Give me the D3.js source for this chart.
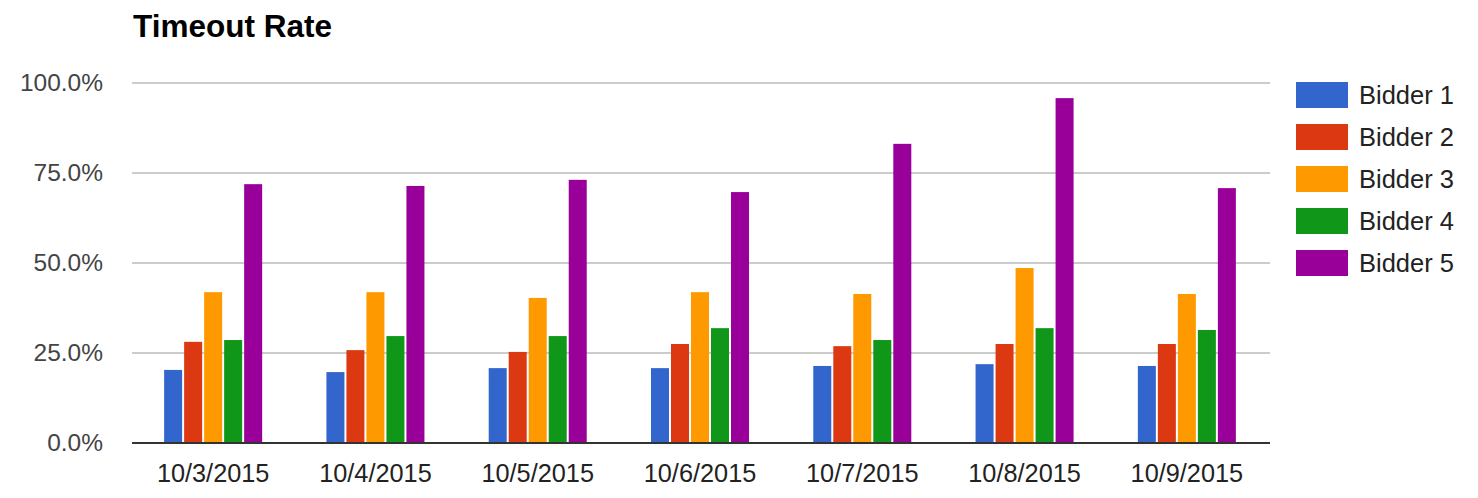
<!DOCTYPE html>
<html>
<head>
<meta charset="utf-8">
<script src="https://cdn.jsdelivr.net/npm/d3@7/dist/d3.min.js"></script>
<style>
  html, body { margin: 0; padding: 0; background: #fff; }
  svg { display: block; font-family: Arial, "Liberation Sans", sans-serif; }
</style>
</head>
<body>
<svg id="chart" width="1478" height="498"></svg>
<script>
const categories = ["10/3/2015", "10/4/2015", "10/5/2015", "10/6/2015", "10/7/2015", "10/8/2015", "10/9/2015"];
const seriesNames = ["Bidder 1", "Bidder 2", "Bidder 3", "Bidder 4", "Bidder 5"];
const bidder1 = [20.3, 19.7, 20.8, 20.8, 21.4, 21.9, 21.4];
const bidder2 = [28.1, 25.8, 25.3, 27.5, 26.9, 27.5, 27.5];
const bidder3 = [41.9, 41.9, 40.3, 41.9, 41.4, 48.6, 41.4];
const bidder4 = [28.6, 29.7, 29.7, 31.9, 28.6, 31.9, 31.4];
const bidder5 = [71.9, 71.4, 73.1, 69.7, 83.1, 95.8, 70.8];
const seriesValues = [bidder1, bidder2, bidder3, bidder4, bidder5];
const colors = ["#3366cc", "#dc3912", "#ff9900", "#109618", "#990099"];
const yTicks = [0, 25, 50, 75, 100];
const chartTitle = "Timeout Rate";

const svg = d3.select("#chart");
const plotLeft = 132, plotRight = 1270, plotTop = 83, plotBottom = 443;

const x0 = d3.scaleBand().domain(categories).range([plotLeft, 1268])
  .paddingInner(0.396).paddingOuter(0.198);
const x1 = d3.scaleBand().domain(seriesNames).range([0, x0.bandwidth()]).paddingInner(0.1);
const y = d3.scaleLinear().domain([0, 100]).range([plotBottom, plotTop]);

// title
svg.append("text").attr("x", 133).attr("y", 37)
  .attr("font-size", 31.5).attr("font-weight", "bold").attr("fill", "#000")
  .text(chartTitle);

// gridlines
svg.append("g").selectAll("line").data(yTicks.filter(d => d !== 0)).join("line")
  .attr("x1", plotLeft).attr("x2", plotRight)
  .attr("y1", d => y(d)).attr("y2", d => y(d))
  .attr("stroke", "#cccccc").attr("stroke-width", 2);

// y axis labels
const yAxis = d3.axisLeft(y).tickValues(yTicks).tickSize(0).tickPadding(0)
  .tickFormat(d => d.toFixed(1) + "%");
const yg = svg.append("g").attr("transform", `translate(103,0)`).call(yAxis);
yg.select(".domain").remove();
yg.selectAll("text").attr("font-size", 24.5).attr("fill", "#444")
  .attr("font-family", 'Arial, "Liberation Sans", sans-serif');

// bars
const groups = svg.append("g").selectAll("g").data(categories).join("g")
  .attr("transform", d => `translate(${x0(d)},0)`);
groups.selectAll("rect")
  .data((c, ci) => seriesNames.map((s, si) => ({ s, si, v: seriesValues[si][ci] })))
  .join("rect")
  .attr("x", d => x1(d.s))
  .attr("width", x1.bandwidth())
  .attr("y", d => y(d.v))
  .attr("height", d => y(0) - y(d.v))
  .attr("fill", d => colors[d.si]);

// baseline
svg.append("line").attr("x1", plotLeft).attr("x2", plotRight)
  .attr("y1", y(0)).attr("y2", y(0))
  .attr("stroke", "#333333").attr("stroke-width", 2);

// x axis labels
const xAxis = d3.axisBottom(x0).tickSize(0).tickPadding(0);
const xg = svg.append("g").attr("transform", `translate(0,0)`).call(xAxis);
xg.select(".domain").remove();
xg.selectAll(".tick text").attr("y", 482).attr("dy", null)
  .attr("font-size", 25.3).attr("fill", "#222")
  .attr("font-family", 'Arial, "Liberation Sans", sans-serif');

// legend
const legend = svg.append("g").selectAll("g").data(seriesNames).join("g")
  .attr("transform", (d, i) => `translate(1296,${82 + i * 42})`);
legend.append("rect").attr("width", 52).attr("height", 26)
  .attr("fill", (d, i) => colors[i]);
legend.append("text").attr("x", 63).attr("y", 13).attr("dy", "0.35em")
  .attr("font-size", 25.5).attr("fill", "#222").text(d => d);
</script>
</body>
</html>
